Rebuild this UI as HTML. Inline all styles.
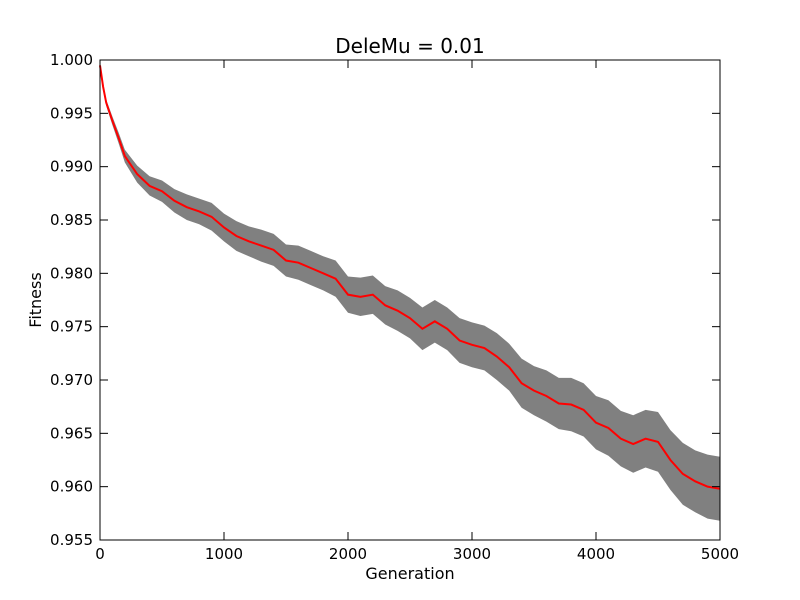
<!DOCTYPE html>
<html><head><meta charset="utf-8"><style>
body{margin:0;background:#fff;}
svg{display:block;font-family:"DejaVu Sans","Liberation Sans",sans-serif;}
</style></head><body>
<svg id="chart" width="800" height="600" viewBox="0 0 800 600">
<rect x="0" y="0" width="800" height="600" fill="#fff"/>
<g id="plot"></g>
<text x="410" y="53" text-anchor="middle" font-size="20">DeleMu = 0.01</text>
<text x="410" y="579" text-anchor="middle" font-size="16">Generation</text>
<text x="41" y="300" text-anchor="middle" font-size="16" transform="rotate(-90 41 300)">Fitness</text>
</svg>
<script>
const gens = [0,25,50,100,150,200,300,400,500,600,700,800,900,1000,1100,1200,1300,1400,1500,1600,1700,1800,1900,2000,2100,2200,2300,2400,2500,2600,2700,2800,2900,3000,3100,3200,3300,3400,3500,3600,3700,3800,3900,4000,4100,4200,4300,4400,4500,4600,4700,4800,4900,5000];
const meanFit = [0.9995,0.9975,0.9960,0.9943,0.9927,0.9910,0.9893,0.9882,0.9877,0.9868,0.9862,0.9858,0.9853,0.9843,0.9835,0.983,0.9826,0.9822,0.9812,0.981,0.9805,0.98,0.9795,0.978,0.9778,0.978,0.977,0.9765,0.9758,0.9748,0.9755,0.9748,0.9737,0.9733,0.973,0.9722,0.9712,0.9697,0.969,0.9685,0.9678,0.9677,0.9672,0.966,0.9655,0.9645,0.964,0.9645,0.9642,0.9625,0.9612,0.9605,0.96,0.9598];
const halfWidth = [0.0001,0.0002,0.0003,0.0004,0.0005,0.0006,0.0008,0.0009,0.001,0.0011,0.0012,0.0012,0.0013,0.0013,0.0014,0.0014,0.0015,0.0015,0.0015,0.0016,0.0016,0.0016,0.0017,0.0017,0.0018,0.0018,0.0018,0.0019,0.0019,0.002,0.002,0.002,0.0021,0.0021,0.0021,0.0022,0.0022,0.0023,0.0023,0.0024,0.0024,0.0025,0.0025,0.0025,0.0026,0.0026,0.0027,0.0027,0.0028,0.0028,0.0029,0.0029,0.003,0.003];
const xTicks = [0,1000,2000,3000,4000,5000];
const yTicks = [0.955,0.960,0.965,0.970,0.975,0.980,0.985,0.990,0.995,1.000];

const X0=100,X1=720,Y0=540,Y1=60;
const xs = v => X0 + (v-0)/(5000-0)*(X1-X0);
const ys = v => Y0 - (v-0.955)/(1.000-0.955)*(Y0-Y1);
const NS="http://www.w3.org/2000/svg";
const g=document.getElementById('plot');
function mk(t,a){const e=document.createElementNS(NS,t);for(const k in a)e.setAttribute(k,a[k]);g.appendChild(e);return e;}

let up=gens.map((x,i)=>xs(x)+','+ys(meanFit[i]+halfWidth[i]));
let lo=gens.map((x,i)=>xs(x)+','+ys(meanFit[i]-halfWidth[i])).reverse();
const band=mk('polygon',{points:up.concat(lo).join(' '),fill:'#808080',stroke:'none'});


const line=mk('polyline',{points:gens.map((x,i)=>xs(x)+','+ys(meanFit[i])).join(' '),fill:'none',stroke:'#ff0000','stroke-width':2});



const frame=mk('rect',{x:X0,y:Y1,width:X1-X0,height:Y0-Y1,fill:'none',stroke:'#000','stroke-width':1});



xTicks.forEach(t=>{
  const x=xs(t);
  mk('line',{x1:x,y1:Y0,x2:x,y2:Y0-8,stroke:'#000'});
  mk('line',{x1:x,y1:Y1,x2:x,y2:Y1+8,stroke:'#000'});
  const tx=mk('text',{x:x,y:Y0+19,'text-anchor':'middle','font-size':15});
  tx.textContent=t;
  
  
});
yTicks.forEach(t=>{
  const y=ys(t);
  mk('line',{x1:X0,y1:y,x2:X0+8,y2:y,stroke:'#000'});
  mk('line',{x1:X1,y1:y,x2:X1-8,y2:y,stroke:'#000'});
  const tx=mk('text',{x:X0-7,y:y+5,'text-anchor':'end','font-size':15});
  tx.textContent=t.toFixed(3);
  
  
});
</script>
</body></html>
